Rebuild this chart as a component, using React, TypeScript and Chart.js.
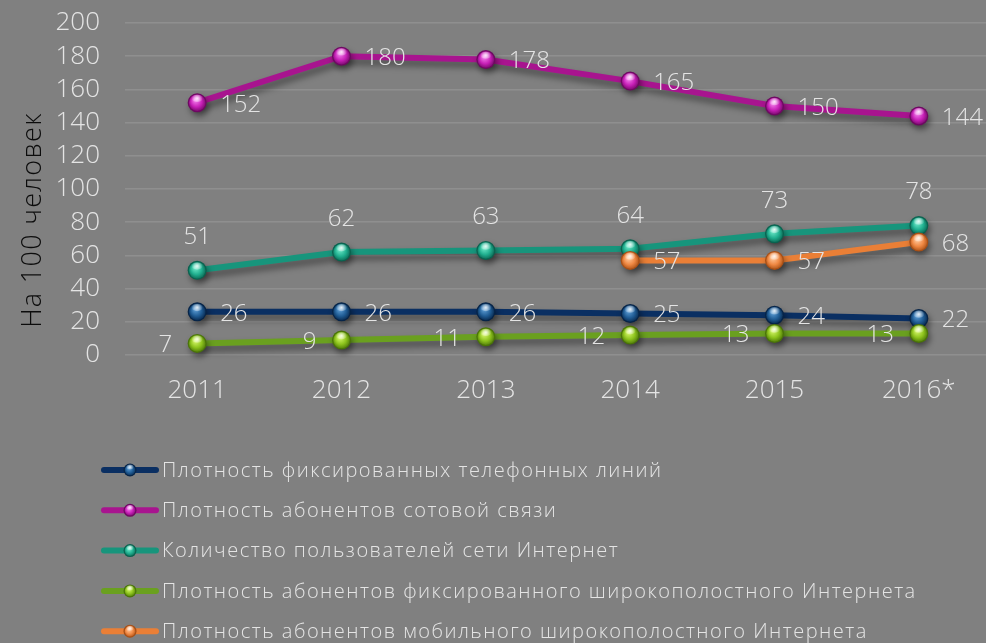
import { useEffect, useRef } from 'react';
import { Chart, registerables } from 'chart.js';

Chart.register(...registerables);

// ---- Data ----
const categories = ['2011', '2012', '2013', '2014', '2015', '2016*'];
const fixedLines = [26, 26, 26, 25, 24, 22];
const mobileSubscribers = [152, 180, 178, 165, 150, 144];
const internetUsers = [51, 62, 63, 64, 73, 78];
const fixedBroadband = [7, 9, 11, 12, 13, 13];
const mobileBroadband: (number | null)[] = [null, null, null, 57, 57, 68];
const seriesNames = [
  'Плотность фиксированных телефонных линий',
  'Плотность абонентов сотовой связи',
  'Количество пользователей сети Интернет',
  'Плотность абонентов фиксированного широкополостного Интернета',
  'Плотность абонентов мобильного широкополостного Интернета',
];
const yAxisTitle = 'На 100 человек';
const yMin = 0;
const yMax = 200;
const yStep = 20;

// ---- Styles ----
const FONT = '"Open Sans", "Liberation Sans", sans-serif';
const lineColors = ['#0a2f62', '#a8148f', '#17957c', '#6aa01f', '#ea7f36'];
const sphereColors = [
  { base: '#1f5b93', light: '#5a9ad2', dark: '#062448' },
  { base: '#c61fb6', light: '#f27aea', dark: '#6e0862' },
  { base: '#1fae8e', light: '#6ae6c6', dark: '#0a624f' },
  { base: '#8cc21c', light: '#d2f466', dark: '#4a7408' },
  { base: '#ef8843', light: '#ffc598', dark: '#a84f15' },
];
const labelModes = ['right', 'right', 'above', 'left', 'right'];
const textColor = '#e4e4e4';

function drawSphere(ctx: CanvasRenderingContext2D, x: number, y: number, r: number, c: { base: string; light: string; dark: string }) {
  ctx.beginPath();
  ctx.arc(x, y, r, 0, Math.PI * 2);
  ctx.fillStyle = c.dark;
  ctx.fill();
  ctx.shadowColor = 'transparent';
  ctx.shadowBlur = 0;
  ctx.shadowOffsetX = 0;
  ctx.shadowOffsetY = 0;
  const g = ctx.createRadialGradient(x - r * 0.2, y - r * 0.3, r * 0.1, x, y, r);
  g.addColorStop(0, c.light);
  g.addColorStop(0.55, c.base);
  g.addColorStop(1, c.dark);
  ctx.beginPath();
  ctx.arc(x, y, r - 1.2, 0, Math.PI * 2);
  ctx.fillStyle = g;
  ctx.fill();
  const hy = y - r * 0.45;
  const h = ctx.createRadialGradient(x, hy, 0, x, hy, r * 0.6);
  h.addColorStop(0, 'rgba(255,255,255,0.85)');
  h.addColorStop(1, 'rgba(255,255,255,0)');
  ctx.beginPath();
  ctx.ellipse(x, hy, r * 0.6, r * 0.38, 0, 0, Math.PI * 2);
  ctx.fillStyle = h;
  ctx.fill();
}

const sphereShadowPlugin = {
  id: 'sphereShadow',
  beforeDatasetDraw(chart: any) {
    const ctx = chart.ctx;
    ctx.save();
    ctx.shadowColor = 'rgba(0,0,0,0.45)';
    ctx.shadowBlur = 7;
    ctx.shadowOffsetX = 2;
    ctx.shadowOffsetY = 5;
  },
  afterDatasetDraw(chart: any, args: any) {
    const ctx = chart.ctx;
    const idx = args.index;
    args.meta.data.forEach((el: any) => {
      if (el.skip) return;
      ctx.save();
      ctx.shadowColor = 'rgba(0,0,0,0.45)';
      ctx.shadowBlur = 6;
      ctx.shadowOffsetX = 2;
      ctx.shadowOffsetY = 4;
      drawSphere(ctx, el.x, el.y, 9.5, sphereColors[idx]);
      ctx.restore();
    });
    ctx.restore();
  },
};

const labelsPlugin = {
  id: 'valueLabels',
  afterDatasetsDraw(chart: any) {
    const ctx = chart.ctx;
    ctx.save();
    ctx.font = `300 24px ${FONT}`;
    ctx.fillStyle = textColor;
    ctx.textBaseline = 'middle';
    chart.data.datasets.forEach((ds: any, di: number) => {
      const meta = chart.getDatasetMeta(di);
      meta.data.forEach((el: any, i: number) => {
        const v = ds.data[i];
        if (v == null || el.skip) return;
        const mode = labelModes[di];
        if (mode === 'right') {
          ctx.textAlign = 'left';
          ctx.fillText(String(v), el.x + 23, el.y + 2);
        } else if (mode === 'left') {
          ctx.textAlign = 'right';
          ctx.fillText(String(v), el.x - 25, el.y + 2);
        } else {
          ctx.textAlign = 'center';
          ctx.fillText(String(v), el.x, el.y - 33);
        }
      });
    });
    ctx.restore();
  },
};

const extrasPlugin = {
  id: 'extras',
  afterDraw(chart: any) {
    const ctx = chart.ctx;
    // y axis title
    ctx.save();
    ctx.translate(33, 220);
    ctx.rotate(-Math.PI / 2);
    ctx.font = `300 27px ${FONT}`;
    (ctx as any).letterSpacing = '1.3px';
    ctx.fillStyle = '#0c0c0c';
    ctx.textAlign = 'center';
    ctx.textBaseline = 'middle';
    ctx.fillText(yAxisTitle, 0, 0);
    ctx.restore();

    // legend
    ctx.save();
    ctx.font = `300 20px ${FONT}`;
    (ctx as any).letterSpacing = '1.5px';
    ctx.textBaseline = 'middle';
    ctx.textAlign = 'left';
    seriesNames.forEach((name, i) => {
      const y = 470 + i * 40.3;
      ctx.strokeStyle = lineColors[i];
      ctx.lineWidth = 6;
      ctx.lineCap = 'round';
      ctx.beginPath();
      ctx.moveTo(104, y);
      ctx.lineTo(156, y);
      ctx.stroke();
      ctx.save();
      drawSphere(ctx, 130, y, 6.5, sphereColors[i]);
      ctx.restore();
      ctx.fillStyle = textColor;
      ctx.fillText(name, 162, y + 1);
    });
    ctx.restore();
  },
};

export default function App() {
  const ref = useRef<HTMLCanvasElement>(null);
  useEffect(() => {
    document.body.style.margin = '0';
    document.body.style.background = '#808080';
    document.body.style.overflow = 'hidden';
    const seriesData = [fixedLines, mobileSubscribers, internetUsers, fixedBroadband, mobileBroadband];
    const chart = new Chart(ref.current!, {
      type: 'line',
      data: {
        labels: categories,
        datasets: seriesData.map((d, i) => ({
          label: seriesNames[i],
          data: d,
          borderColor: lineColors[i],
          backgroundColor: lineColors[i],
          borderWidth: 6,
          pointRadius: 0,
          pointHoverRadius: 0,
          tension: 0,
          clip: false as any,
          order: seriesData.length - i,
        })),
      },
      options: {
        responsive: false,
        animation: false,
        events: [],
        layout: { padding: 0 },
        plugins: { legend: { display: false }, tooltip: { enabled: false } },
        scales: {
          x: {
            type: 'category',
            offset: true,
            grid: { display: false, drawTicks: false },
            border: { display: false },
            ticks: { color: textColor, font: { family: FONT, size: 26, weight: 300 as any }, padding: 20, maxRotation: 0 },
            afterFit: (s: any) => { s.height = 288; s.paddingLeft = 0; s.paddingRight = 0; },
          },
          y: {
            min: yMin,
            max: yMax,
            ticks: { stepSize: yStep, autoSkip: false, color: textColor, font: { family: FONT, size: 26, weight: 300 as any }, padding: 25 },
            grid: { color: '#8f8f8f', lineWidth: 1.5, drawTicks: false },
            border: { display: false },
            afterFit: (s: any) => { s.width = 125; s.paddingTop = 23; s.paddingBottom = 0; },
          },
        },
      },
      plugins: [sphereShadowPlugin, labelsPlugin, extrasPlugin],
    });
    return () => chart.destroy();
  }, []);
  return (
    <div style={{ width: 986, height: 643, overflow: 'hidden', background: '#808080' }}>
      <canvas ref={ref} width={991} height={643} style={{ display: 'block' }} />
    </div>
  );
}
